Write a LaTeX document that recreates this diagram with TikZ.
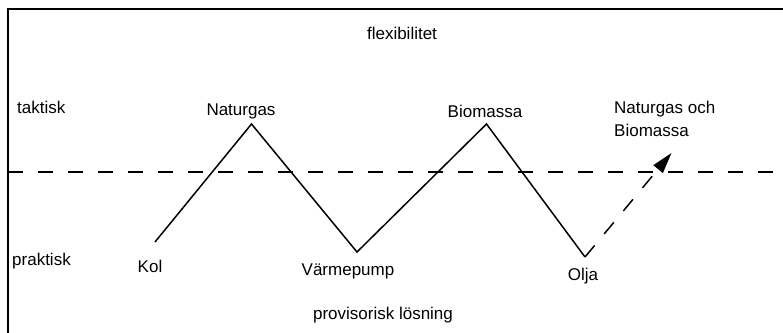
\documentclass[tikz,border=0pt]{standalone}
\usepackage{fontspec}
\setmainfont{Liberation Sans}
\usetikzlibrary{arrows.meta}
\begin{document}
\begin{tikzpicture}[x=1pt,y=-1pt,
  lbl/.style={inner sep=0pt,font=\fontsize{17}{21}\selectfont},
  route/.style={line width=1.5pt,line join=miter},
  dashline/.style={line width=1.5pt,dash pattern=on 15pt off 15pt},
  frame/.style={line width=2pt}]
\useasboundingbox (0,0) rectangle (783,332);
\begin{scope}
  \clip (0,0) rectangle (783,332);
  \draw[frame] (7.5,8.5) rectangle (800,350);
\end{scope}
% boundary between the tactical and the practical level
\coordinate (dl) at (8,172);
\coordinate (dr) at (783,172);
\draw[dashline] (dl) -- (dr);
% levels
\node[lbl] (flex) at (402,33) {flexibilitet};
\node[lbl,anchor=west] (takt) at (17,107) {taktisk};
\node[lbl,anchor=west] (prak) at (12,261) {praktisk};
\node[lbl] (prov) at (383,315) {provisorisk lösning};
% fuels
\node[lbl] (natur) at (241,111) {Naturgas};
\node[lbl] (bio) at (485,111) {Biomassa};
\node[lbl] (kol) at (150,266) {Kol};
\node[lbl] (varme) at (348,271) {Värmepump};
\node[lbl] (olja) at (583,276) {Olja};
\node[lbl,anchor=west,align=left] (combo) at (614,119) {Naturgas och\\[2pt]Biomassa};
% zigzag path
\coordinate (pk) at (155,242);
\coordinate (pn) at (251.5,124);
\coordinate (pv) at (357,252);
\coordinate (pb) at (486.5,124);
\coordinate (po) at (585,257);
\coordinate (pc) at (671.5,153);
\draw[route] (pk) -- (pn) -- (pv) -- (pb) -- (po);
\draw[dashline,-{Triangle[length=21pt,width=12pt]}] (po) -- (pc);
\end{tikzpicture}
\end{document}
